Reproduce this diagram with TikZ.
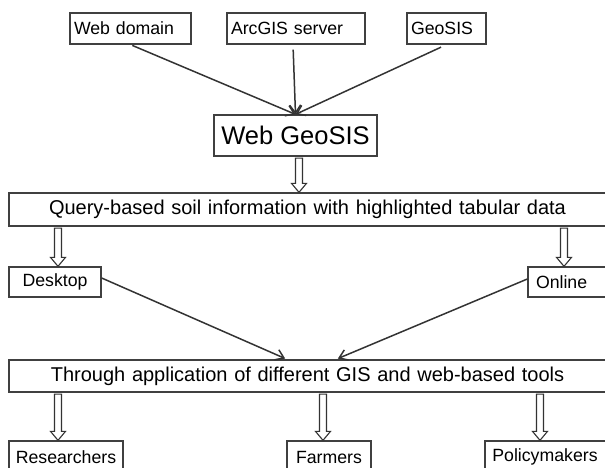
\documentclass[tikz,border=0pt]{standalone}
\usepackage{fontspec}
\setmainfont{Liberation Sans}
\usetikzlibrary{arrows.meta,calc}

\tikzset{
  box/.style={draw=black!75, line width=1.3pt, fill=white, inner sep=0pt, align=center},
  leftbox/.style={box, inner xsep=4pt, align=left, minimum height=31pt},
  txtsmall/.style={font=\fontsize{17.7}{20}\selectfont},
  txtmed/.style={font=\fontsize{20}{23}\selectfont},
  txtbig/.style={font=\fontsize{25.5}{30}\selectfont},
  link/.style={draw=black!80, line width=1.5pt, -{Straight Barb[length=8pt,width=11pt]}},
  hollow/.style={draw=black!80, line width=1.1pt, fill=white},
}

% hollow block arrow: #1 x reference, #2 source node, #3 target node
\newcommand{\hollowarrow}[3]{%
  \draw[hollow] let \p1=(#1), \p2=(#2.south), \p3=(#3.north) in
    (\x1-3.5pt,\y2-1.5pt) -- (\x1-3.5pt,\y3+9pt) -- (\x1-7.5pt,\y3+9pt) -- (\x1,\y3)
    -- (\x1+7.5pt,\y3+9pt) -- (\x1+3.5pt,\y3+9pt) -- (\x1+3.5pt,\y2-1.5pt) -- cycle;}

\begin{document}
\begin{tikzpicture}[x=1pt,y=-1pt]
  \useasboundingbox (0,0) rectangle (605,468);

  % Sources
  \node[leftbox, txtsmall, text width=113pt] (webdom) at (130.5,28.5) {Web domain};
  \node[leftbox, txtsmall, text width=130pt] (arcgis) at (296,28.5) {ArcGIS server};
  \node[leftbox, txtsmall, text width=71pt] (geosis) at (446.5,28.5) {GeoSIS};

  % Central system
  \node[box, txtbig, minimum width=163pt, minimum height=41pt] (wgs) at (295.5,135.5) {Web GeoSIS};
  \node[box, txtmed, text width=604pt, minimum height=33pt] (query) at (311,209.5) {\hspace*{-7pt}Query-based soil information with highlighted tabular data};

  % Platforms
  \node[box, txtsmall, minimum width=92pt, minimum height=30pt] (desk) at (55,282) {Desktop};
  \node[box, txtsmall, text width=76pt, inner xsep=8pt, align=left, minimum height=30pt] (online) at (574,282) {Online};

  \node[box, txtmed, text width=604pt, minimum height=32pt] (thru) at (311,376) {\hspace*{-7pt}Through application of different GIS and web-based tools};

  % Users
  \node[box, txtsmall, minimum width=114pt, minimum height=32pt] (res) at (66,457) {Researchers};
  \node[box, txtsmall, minimum width=84pt, minimum height=32pt] (farm) at (329,457) {Farmers};
  \node[box, txtsmall, minimum width=128pt, minimum height=32pt] (pol) at (549,457) {\hspace*{-8pt}Policymakers};

  % Line arrows
  \draw[link, shorten <=2pt] (webdom.south) -- (wgs.north);
  \draw[link, shorten <=5pt] ([xshift=-3pt]arcgis.south) -- (wgs.north);
  \draw[link, shorten <=6pt] (geosis.south) -- (wgs.north);
  \draw[link, shorten >=2pt] ([yshift=4pt]desk.east) -- ([xshift=-24pt]thru.north);
  \draw[link, shorten >=2pt] ([yshift=3pt]online.west) -- ([xshift=25pt]thru.north);

  % Block arrows
  \hollowarrow{[xshift=3.5pt]wgs.south}{wgs}{query}
  \hollowarrow{[xshift=3pt]desk.north}{query}{desk}
  \hollowarrow{[xshift=-10pt]online.north}{query}{online}
  \hollowarrow{[xshift=-8pt]res.north}{thru}{res}
  \hollowarrow{[xshift=-6pt]farm.north}{thru}{farm}
  \hollowarrow{[xshift=-9pt]pol.north}{thru}{pol}
\end{tikzpicture}
\end{document}
